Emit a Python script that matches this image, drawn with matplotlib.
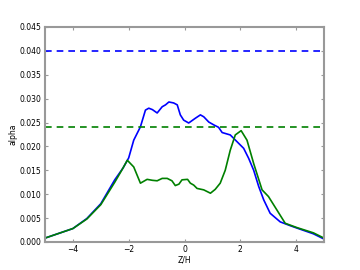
import matplotlib
matplotlib.use("Agg")
import matplotlib.pyplot as plt
from matplotlib.ticker import FormatStrFormatter

blue_z = [-5, -4.5, -4, -3.5, -3, -2.5, -2.2, -2.0, -1.82, -1.58, -1.4, -1.28, -1.15, -0.98,
          -0.8, -0.68, -0.56, -0.39, -0.26, -0.15, -0.03, 0.15, 0.39, 0.57, 0.69, 0.87, 1.05,
          1.22, 1.35, 1.64, 1.88, 2.12, 2.3, 2.48, 2.66, 2.84, 3.07, 3.43, 3.79, 4.03, 4.62, 5.0]
blue_alpha = [0.0008, 0.0018, 0.0028, 0.0049, 0.0080, 0.0130, 0.0155, 0.0176, 0.0213, 0.0241,
              0.0276, 0.0280, 0.0277, 0.0270, 0.0283, 0.0287, 0.0293, 0.0291, 0.0287, 0.0266,
              0.0255, 0.0249, 0.0259, 0.0266, 0.0262, 0.0251, 0.0245, 0.0240, 0.0229, 0.0224,
              0.0210, 0.0196, 0.0175, 0.0150, 0.0116, 0.0088, 0.0060, 0.0042, 0.0034, 0.0029,
              0.0017, 0.0006]

green_z = [-5, -4.5, -4, -3.5, -3, -2.5, -2.25, -2.05, -1.82, -1.58, -1.34, -1.15, -0.98, -0.8,
           -0.62, -0.45, -0.33, -0.2, -0.09, 0.11, 0.21, 0.33, 0.45, 0.69, 0.93, 1.1, 1.28, 1.46,
           1.64, 1.82, 2.03, 2.24, 2.48, 2.78, 3.01, 3.31, 3.61, 4.03, 4.62, 5.0]
green_alpha = [0.0008, 0.0018, 0.0028, 0.0048, 0.0078, 0.0125, 0.0150, 0.0171, 0.0157, 0.0123,
               0.0131, 0.0129, 0.0128, 0.0133, 0.0133, 0.0128, 0.0118, 0.0121, 0.0130, 0.0131,
               0.0123, 0.0119, 0.0112, 0.0109, 0.0102, 0.0110, 0.0123, 0.0150, 0.0192, 0.0224,
               0.0233, 0.0213, 0.0164, 0.0109, 0.0095, 0.0067, 0.0039, 0.0030, 0.0019, 0.0008]

blue_level = 0.040
green_level = 0.024

xticks = [-4, -2, 0, 2, 4]
yticks = [0.000, 0.005, 0.010, 0.015, 0.020, 0.025, 0.030, 0.035, 0.040, 0.045]

fig = plt.figure(figsize=(3.6, 2.7), dpi=100)
ax = fig.add_axes([0.125, 0.104, 0.775, 0.796])

ax.plot(blue_z, blue_alpha, color="#0000ff", lw=1.2)
ax.plot(green_z, green_alpha, color="#008000", lw=1.2)
ax.axhline(blue_level, color="#0000ff", lw=1.2, ls=(0, (4, 3)))
ax.axhline(green_level, color="#008000", lw=1.2, ls=(0, (4, 3)))

ax.set_xlim(-5, 5)
ax.set_ylim(0, 0.045)
ax.set_xticks(xticks)
ax.set_yticks(yticks)
ax.yaxis.set_major_formatter(FormatStrFormatter("%.3f"))
ax.tick_params(direction="in", length=2.5, width=0.8, color="#999999",
               labelsize=5.5, top=True, right=True, pad=2.5)
for s in ax.spines.values():
    s.set_color("#999999")
    s.set_linewidth(1.5)
ax.set_xlabel("Z/H", fontsize=5.5, labelpad=0.5)
ax.set_ylabel("alpha", fontsize=5.5, labelpad=1.5)

fig.savefig("out.png", dpi=100)
